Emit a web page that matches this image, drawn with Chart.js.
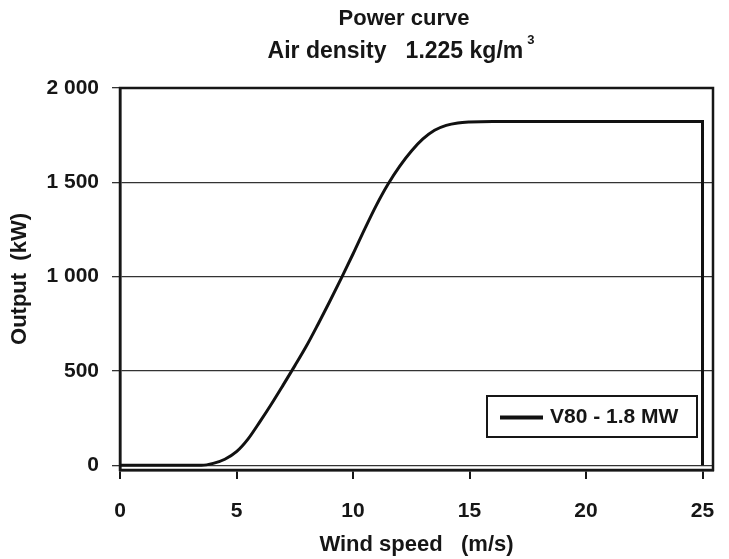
<!DOCTYPE html>
<html>
<head>
<meta charset="utf-8">
<title>Power curve</title>
<script src="https://cdn.jsdelivr.net/npm/chart.js@4.4.1/dist/chart.umd.min.js"></script>
<style>
  html, body { margin: 0; padding: 0; background: #fff; }
  #wrap { width: 729px; height: 559px; }
</style>
</head>
<body>
<div id="wrap"><canvas id="chart1"></canvas></div>
<script>
const windSpeed = [0, 1, 2, 3, 3.5, 4, 4.5, 5, 5.5, 6, 6.5, 7, 7.5, 8, 8.5, 9, 9.5, 10, 10.5, 11, 11.5,
                   12, 12.5, 13, 13.5, 14, 14.5, 15, 16, 17, 18, 19, 20, 21, 22, 23, 24, 25, 25];
const outputKW = [0, 0, 0, 0, 0, 10, 32, 72, 140, 230, 325, 425, 527, 632, 748, 868, 992, 1120, 1252, 1378, 1490,
                  1585, 1665, 1730, 1776, 1802, 1815, 1820, 1823, 1823, 1823, 1823, 1823, 1823, 1823, 1823, 1823, 1823, 0];
const seriesName = 'V80 - 1.8 MW';

const xTicks = [0, 5, 10, 15, 20, 25];
const yTicks = [0, 500, 1000, 1500, 2000];
const yTickLabels = ['0', '500', '1 000', '1 500', '2 000'];

const titleLine1 = 'Power curve';
const titleLine2 = 'Air density   1.225 kg/m';
const titleSup = '3';

const FONT = '"Liberation Sans", Arial, sans-serif';
const INK = '#161616';

// Titulo dibujado a mano (linea con superindice)
const titlePlugin = {
  id: 'titlePlugin',
  afterDraw(chart) {
    const ctx = chart.ctx;
    ctx.save();
    ctx.fillStyle = INK;
    ctx.textBaseline = 'middle';
    ctx.font = 'bold 22px ' + FONT;
    ctx.textAlign = 'center';
    ctx.fillText(titleLine1, 404, 19);

    ctx.font = 'bold 23px ' + FONT;
    const w2 = ctx.measureText(titleLine2).width;
    ctx.font = 'bold 13px ' + FONT;
    const ws = ctx.measureText(titleSup).width;
    const start = 401 - (w2 + 4 + ws) / 2;
    ctx.textAlign = 'left';
    ctx.font = 'bold 23px ' + FONT;
    ctx.fillText(titleLine2, start, 52);
    ctx.font = 'bold 13px ' + FONT;
    ctx.fillText(titleSup, start + w2 + 4, 40);
    ctx.restore();
  }
};

// Marco del area del grafico
const framePlugin = {
  id: 'framePlugin',
  beforeDatasetsDraw(chart) {
    const a = chart.chartArea;
    const ctx = chart.ctx;
    ctx.save();
    ctx.strokeStyle = INK;
    ctx.lineWidth = 2.5;
    ctx.strokeRect(a.left, a.top, a.right - a.left, a.bottom - a.top);
    ctx.restore();
  }
};

// Leyenda dentro del area del grafico
const boxLegend = {
  id: 'boxLegend',
  afterDraw(chart) {
    const a = chart.chartArea;
    const ds = chart.data.datasets[0];
    const ctx = chart.ctx;
    const right = a.right - 16, bottom = a.bottom - 33;
    const w = 210, h = 41;
    const left = right - w, top = bottom - h;
    ctx.save();
    ctx.fillStyle = '#fff';
    ctx.fillRect(left, top, w, h);
    ctx.strokeStyle = INK;
    ctx.lineWidth = 2;
    ctx.strokeRect(left, top, w, h);
    ctx.strokeStyle = ds.borderColor;
    ctx.lineWidth = 4;
    ctx.beginPath();
    ctx.moveTo(left + 13, top + h / 2 + 1);
    ctx.lineTo(left + 56, top + h / 2 + 1);
    ctx.stroke();
    ctx.fillStyle = INK;
    ctx.font = 'bold 21px ' + FONT;
    ctx.textBaseline = 'middle';
    ctx.textAlign = 'left';
    ctx.fillText(ds.label, left + 63, top + h / 2 + 1);
    ctx.restore();
  }
};

function buildChart() {
  const points = windSpeed.map((v, i) => ({ x: v, y: outputKW[i] }));

  const ctx1 = document.getElementById('chart1').getContext('2d');
  return new Chart(ctx1, {
    type: 'line',
    data: {
      datasets: [{
        label: seriesName,
        data: points,
        borderColor: '#111',
        borderWidth: 3,
        pointRadius: 0,
        fill: false,
        cubicInterpolationMode: 'monotone'
      }]
    },
    options: {
      responsive: true,
      maintainAspectRatio: false,
      animation: false,
      layout: { padding: { top: 88, right: 16, left: 0, bottom: 0 } },
      plugins: {
        legend: { display: false },
        title: { display: false },
        tooltip: { enabled: false }
      },
      scales: {
        x: {
          type: 'linear',
          min: 0,
          max: 25.45,
          afterBuildTicks: axis => { axis.ticks = xTicks.map(v => ({ value: v })); },
          afterFit: axis => { axis.height = 89; axis.paddingRight = 0; axis.paddingLeft = 0; },
          grid: { drawOnChartArea: false, drawTicks: true, tickLength: 9, color: INK, lineWidth: 2 },
          border: { display: true, color: INK, width: 2.5 },
          ticks: { padding: 20, color: INK, font: { family: FONT, size: 21, weight: 'bold' } },
          title: {
            display: true,
            text: 'Wind speed   (m/s)',
            color: INK,
            font: { family: FONT, size: 22, weight: 'bold' },
            padding: { top: 0, bottom: 1 }
          }
        },
        y: {
          min: -25,
          max: 2000,
          afterBuildTicks: axis => { axis.ticks = yTicks.map(v => ({ value: v })); },
          afterFit: axis => { axis.width = 120; },
          grid: { color: '#333', lineWidth: 1.3, tickLength: 8 },
          border: { display: true, color: INK, width: 2.5 },
          ticks: {
            padding: 13,
            color: INK,
            font: { family: FONT, size: 21, weight: 'bold' },
            callback: function(value) {
              const i = yTicks.indexOf(value);
              return i >= 0 ? yTickLabels[i] : '';
            }
          },
          title: {
            display: true,
            text: 'Output  (kW)',
            color: INK,
            font: { family: FONT, size: 22, weight: 'bold' },
            padding: { top: 7, bottom: 0 }
          }
        }
      }
    },
    plugins: [titlePlugin, framePlugin, boxLegend]
  });
}

buildChart();
</script>
</body>
</html>
